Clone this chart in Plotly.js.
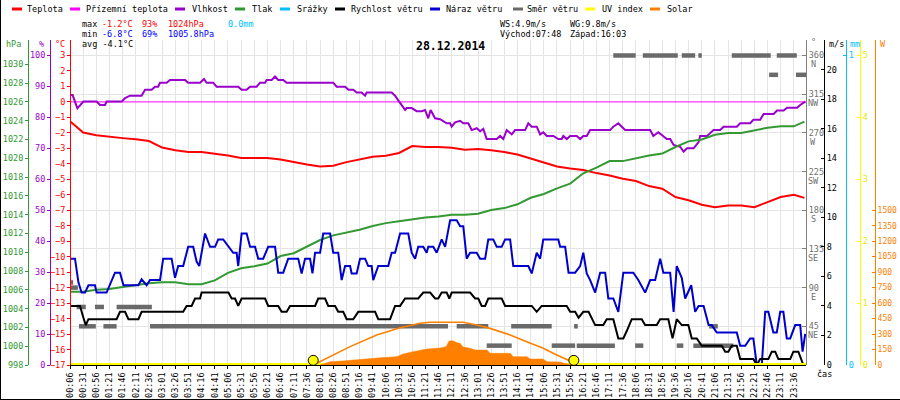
<!DOCTYPE html>
<html><head><meta charset="utf-8">
<script src="https://cdn.plot.ly/plotly-3.0.1.min.js"></script>
<style>html,body{margin:0;padding:0;background:#fff}#chart{width:900px;height:400px}</style>
</head><body><div id="chart"></div>
<script>
// ---------- DATA ----------
const timeLabels = ["00:06","00:31","00:56","01:21","01:46","02:11","02:36","03:01","03:26","03:51","04:16","04:41","05:06","05:31","05:56","06:21","06:46","07:11","07:36","08:01","08:26","08:51","09:16","09:41","10:06","10:31","10:56","11:21","11:46","12:11","12:36","13:01","13:26","13:51","14:16","14:41","15:06","15:31","15:56","16:21","16:46","17:11","17:36","18:06","18:31","18:56","19:36","20:16","20:41","21:06","21:31","21:56","22:21","22:46","23:11","23:36"];

// one value per tick label, plus the last sample
const temperature = [-1.25,-1.98,-2.16,-2.23,-2.34,-2.42,-2.53,-2.95,-3.13,-3.24,-3.24,-3.35,-3.46,-3.63,-3.63,-3.63,-3.72,-3.89,-4.04,-4.17,-4.12,-3.89,-3.74,-3.55,-3.48,-3.3,-2.85,-2.92,-2.92,-2.96,-3.09,-3.05,-3.13,-3.24,-3.4,-3.67,-3.89,-4.17,-4.3,-4.4,-4.6,-4.75,-4.96,-5.11,-5.44,-5.61,-6.15,-6.36,-6.65,-6.8,-6.7,-6.69,-6.8,-6.45,-6.15,-6.0,-6.2];
const pressure = [1005.8,1005.8,1006,1006.1,1006.3,1006.5,1006.7,1006.8,1006.8,1006.6,1006.6,1007,1007.8,1008.3,1008.5,1008.8,1009.6,1009.9,1010.6,1011.3,1011.8,1012.1,1012.4,1012.8,1013.1,1013.3,1013.5,1013.7,1013.8,1014,1014,1014.1,1014.5,1014.7,1015.1,1015.8,1016.2,1016.8,1017.3,1018.4,1019,1019.7,1019.7,1020,1020.3,1020.5,1021.2,1021.8,1022,1022.5,1022.7,1022.7,1023,1023.25,1023.4,1023.4,1023.9];

// [sample index, value]
const humidity = [[0,87.2],[1,87.2],[2.8,82.9],[5.1,85.1],[10.1,85.1],[11.4,84],[13.3,84],[13.9,85.1],[19.6,85.1],[20.9,86.2],[22.8,87],[27.2,87],[28.5,88.9],[31,88.9],[32.3,89.9],[33.5,89.9],[34.2,91.2],[36.7,91.2],[38,92.1],[43.7,92.1],[44.9,91.2],[49.4,91.2],[50.9,92.4],[51.9,91.2],[54.4,91.2],[55.7,89.9],[63.9,89.9],[65.2,88.9],[67.1,88.9],[68.4,89.9],[70.9,89.9],[72.2,91.2],[74.1,91.2],[74.7,92.1],[76.6,92.1],[77.9,93.2],[79.1,92.1],[81,92.1],[82.3,91.2],[100,91.2],[101.3,89.9],[104.5,89.9],[105.8,88.9],[107.6,88.9],[108.9,88],[110.8,88],[112.1,87],[112.7,88],[122.2,88],[123.5,87],[124.7,85.5],[127.3,82.4],[127.9,83],[129.8,83],[131.7,82],[133.6,82],[134.9,82.4],[136.1,79.7],[137,82.4],[138.7,79.7],[140.6,79.4],[143.1,78.1],[144.4,78.1],[145,77],[146.3,78.4],[148.2,78.9],[149.4,78.1],[151.3,78.1],[152.6,75.9],[154.5,76.5],[155.8,75.5],[157,76.3],[158.3,73],[162.1,73],[163.4,74],[164.6,73],[165.9,75.9],[167.8,74.5],[169.1,75.9],[172.9,75.9],[174.1,78.1],[175.4,77],[177.3,77],[178.6,74.5],[179.8,75.2],[181.1,74],[183.6,74],[185.5,73],[186.8,73],[187.4,74],[188.7,73],[190,74],[192.5,74],[193.8,73],[195,74],[196.3,74],[197.6,75.9],[205.2,75.9],[206.4,77],[208.3,78.1],[209.6,77],[210.9,75.9],[220.4,75.9],[221.6,74],[223.5,75.2],[225.4,74],[226.7,73],[228,73],[229.3,71.1],[231.8,70.5],[233.1,68.9],[234.4,70],[236.9,70],[238.8,72],[239.4,74],[242,74],[243.2,75],[244.5,75.9],[247,75.9],[248.3,77],[253.3,77],[254.6,78.1],[258.4,78.1],[259.6,79.2],[262.2,79.2],[263.5,81.1],[267.3,81.1],[268.6,82.2],[271.1,82.2],[272.4,83.1],[276.2,83.1],[277.4,84],[279.3,85.1]];

const windSpeed = [[0,4.0],[3.8,4.0],[5.1,3.2],[6,2.7],[7,3.1],[17.7,3.1],[19,3.6],[20.9,3.6],[22.2,3.1],[26,3.1],[27.2,3.6],[43,3.6],[44.3,4.0],[46.2,4.0],[47.5,4.5],[49.4,4.5],[50,4.9],[60.2,4.9],[61.4,4.5],[62.7,4.5],[63.9,4.0],[65.2,4.5],[74.1,4.5],[75.3,4.0],[79.1,4.0],[80.4,3.6],[82.3,3.6],[83.6,4.0],[93.1,4.0],[94.3,4.5],[96.9,4.5],[98.1,4.0],[100.7,4.0],[101.9,3.6],[103.8,3.6],[105.1,3.1],[107.6,3.1],[109.5,3.6],[115.9,3.6],[117.1,3.1],[121.6,3.1],[123.5,4.0],[125.4,4.0],[127.3,4.5],[132.3,4.5],[134.2,4.9],[136.8,4.9],[138.7,4.5],[139.9,4.5],[141.2,4.9],[143.1,4.9],[144.1,4.5],[145,4.9],[152,4.9],[153.9,4.5],[155.1,4.5],[156.4,4.0],[157.7,4.0],[158.9,4.5],[164,4.5],[165.3,4.0],[175.4,4.0],[177.3,3.6],[179.2,4.0],[188.7,4.0],[190,3.6],[191.9,3.6],[193.2,3.2],[195,3.6],[197,3.6],[199.5,2.7],[202.6,2.7],[203.9,3.1],[206.4,3.1],[208.3,1.8],[210.2,1.8],[211.5,2.3],[213.4,3.1],[217.2,3.1],[218.5,2.7],[222.9,2.7],[224.2,3.1],[227.3,3.1],[228.9,1.8],[230.5,3.1],[232.4,2.7],[234.9,2.7],[236.2,1.8],[238.1,1.8],[240,1.3],[247.6,1.3],[248.9,0.9],[250.1,0.9],[251.4,1.3],[253.3,1.3],[254.6,0.4],[259.6,0.4],[260.9,0],[262.2,0.4],[265.3,0.4],[266.6,0.9],[267.9,0.9],[269.1,0.4],[273.6,0.4],[274.8,0.9],[276.7,0.9],[278.6,0],[279.3,0]];

const windGust = [[0,7.2],[1.9,7.2],[3.2,5.6],[4.4,4.9],[5.7,4.9],[7,5.4],[9.5,5.4],[10.1,4.9],[13.9,4.9],[15.2,5.4],[17.1,6.25],[19,6.25],[20.3,5.4],[26,5.4],[27.2,5.8],[29.1,5.4],[30.4,5.75],[34.2,5.75],[35.4,7.2],[38.6,7.2],[39.9,5.9],[41.1,6.7],[43,6.7],[44.9,8.0],[46.8,8.0],[48.1,7.0],[49.1,6.7],[51.3,8.9],[53.2,8.0],[55.1,8.0],[56.3,8.5],[58.2,8.5],[60.2,8.0],[62,7.6],[63.3,7.6],[63.9,6.7],[65.2,8.9],[67.1,8.9],[68.4,8.0],[70.3,8.0],[71.5,7.2],[73.4,7.2],[75.3,8.0],[77.9,8.0],[79.1,6.25],[81,6.25],[82.9,7.2],[86.7,7.2],[88,6.2],[89.3,7.2],[91.2,7.2],[92.1,6.2],[93.1,7.6],[95,7.6],[96.2,8.9],[98.8,8.9],[100,7.6],[101.9,7.6],[103.2,5.75],[104.5,6.7],[106.4,6.7],[107,6.2],[108.9,6.2],[110.2,7.2],[112.1,7.2],[113.3,6.7],[114.6,6.7],[115.2,5.75],[117.1,6.7],[120.9,6.7],[122.2,7.6],[123.5,7.6],[125.4,8.9],[128.5,8.9],[129.8,7.6],[131.1,7.2],[132.3,8.0],[134.2,8.0],[135.5,7.6],[136.1,8.0],[138,8.0],[139.3,7.6],[141.2,8.5],[142.5,8.0],[144.4,9.8],[146.9,9.8],[148.2,9.4],[149.4,9.4],[150.7,7.2],[152,7.6],[154.5,7.6],[155.8,7.2],[157.7,7.2],[158.9,8.5],[160.8,8.5],[162.1,8.0],[164,8.0],[165.3,8.5],[167.2,8.5],[168.4,6.7],[174.1,6.7],[175.4,6.2],[177.3,7.6],[178.6,7.2],[179.8,8.5],[185.5,8.5],[186.2,8.0],[188.1,8.0],[189.4,6.25],[191.9,6.25],[193.8,6.7],[195,7.6],[196.3,6.2],[197.6,5.75],[199.5,4.9],[201.4,6.25],[203.3,6.25],[204.5,4.5],[206.4,4.5],[208.3,3.6],[210.2,6.25],[214,6.25],[215.9,5.75],[218.5,4.9],[220.4,5.75],[222.3,5.75],[224.2,7.2],[225.4,6.25],[228,6.25],[229.3,3.6],[230.5,6.7],[232.4,5.9],[233.7,4.5],[236,5.4],[237.5,3.6],[238.8,4.0],[240.7,4.0],[242.6,2.7],[243.8,2.7],[245.7,2.2],[253.3,2.2],[254.6,1.3],[256.5,1.3],[258.4,1.8],[259.6,1.8],[260.9,0],[262.8,0],[264.1,3.6],[265.3,3.6],[267.2,2.2],[268.5,2.2],[269.8,3.6],[271,3.6],[272.3,1.8],[273.6,1.8],[275.5,2.7],[277.4,2.7],[278.3,0.9],[279.3,2.1]];

// wind direction runs: [first sample, last sample, degrees]
const windDirection = [[0,1.2,96],[0,3,90],[2.5,6,67.5],[9.5,12.9,67.5],[17.7,31.1,67.5],[3.4,9.8,45],[12.7,17.7,45],[30.4,143.6,45],[146.9,158.9,45],[167.6,183,45],[191.5,192.9,45],[242.8,246.1,45],[143.7,146.3,22.5],[158.3,167.8,22.5],[183,191.9,22.5],[192.5,207,22.5],[214.7,217.8,22.5],[230.5,233,22.5],[236.8,252,22.5],[206.4,214.9,360],[217.6,230.9,360],[232.4,237.5,360],[238.7,240,360],[251.4,266.2,360],[268.5,276.1,360],[265.6,269,337.5],[275.8,279.6,337.5]];

const solar = [[95,0],[96.1,10],[98.8,32],[104.5,40],[108.3,50],[112.1,55],[117.8,70],[124.2,81],[126.5,107],[130.3,129],[133,140],[135.6,155],[140.6,165],[142.9,178],[144,233],[145.5,235],[147,215],[148.2,210],[149.3,175],[152,162],[153.9,145],[158.4,145],[159.6,113],[167.2,113],[168.4,81],[173.6,81],[174.8,58],[179.7,58],[181.2,32],[186.2,28],[188,15],[191.9,0]];
const solarMax = [[92.4,0],[93.7,16],[98.8,80],[106.4,178],[116.5,291],[125.4,362],[133,404],[136.8,414],[149.3,414],[154.5,388],[159.6,355],[167.2,291],[173.5,226],[179.8,162],[184.3,104],[190.6,32],[191.4,0]];
const groundTemp = [[0,0],[279.6,0]];
const rain = [[0,0],[279.6,0]];
const uvIndex = [[0,0],[279.6,0]];
const sunEvents = [[92.4,"Východ 07:48"],[191.4,"Západ 16:03"]];

const infoMax = ["-1.2°C","93%","1024hPa","0.0mm"];
const infoMin = ["-6.8°C","69%","1005.8hPa"];
const infoAvg = "-4.1°C";
const windInfo = ["WS:4.9m/s","WG:9.8m/s","Východ:07:48","Západ:16:03"];
const chartDate = "28.12.2014";
const legendNames = ["Teplota","Přízemní teplota","Vlhkost","Tlak","Srážky","Rychlost větru","Náraz větru","Směr větru","UV index","Solar"];
const compass = ["NE","E","SE","S","SW","W","NW","N"];
const compassDeg = [45,90,135,180,225,270,315,360];

// ---------- STYLE ----------
const C = {temp:'#ff0000', ground:'#ff00ff', hum:'#9900cc', pres:'#339933', rain:'#00bfff', wind:'#000000', gust:'#0000cc', dir:'#6a6a6a', uv:'#ffff00', solar:'#ff8000'};
const legendColors = [C.temp,C.ground,C.hum,C.pres,C.rain,C.wind,C.gust,C.dir,C.uv,C.solar];
const mono = 'DejaVu Sans Mono, monospace';
const W = 900, H = 400, XL = 70, XR = 806, YT = 40, YB = 365;
const px = v => v / W, py = v => 1 - v / H;

const tickIdx = timeLabels.map((_, i) => i * 5);
const seriesIdx = tickIdx.concat([279]);
const col = (arr, i) => arr.map(p => p[i]);

const dirX = [], dirY = [];
windDirection.forEach(r => { dirX.push(r[0], r[1], null); dirY.push(r[2], r[2], null); });

const traces = [
  {x: col(solar,0), y: col(solar,1), yaxis:'y8', type:'scatter', mode:'lines', fill:'tozeroy', fillcolor:C.solar, line:{color:C.solar, width:0.5}},
  {x: col(solarMax,0), y: col(solarMax,1), yaxis:'y8', type:'scatter', mode:'lines', line:{color:C.solar, width:1.6}},
  {x: col(rain,0), y: col(rain,1), yaxis:'y6', type:'scatter', mode:'lines', line:{color:C.rain, width:2}},
  {x: col(uvIndex,0), y: col(uvIndex,1), yaxis:'y7', type:'scatter', mode:'lines', line:{color:C.uv, width:4}},
  {x: dirX, y: dirY, yaxis:'y4', type:'scatter', mode:'lines', connectgaps:false, line:{color:C.dir, width:4.5}},
  {x: col(windGust,0), y: col(windGust,1), yaxis:'y5', type:'scatter', mode:'lines', line:{color:C.gust, width:2}},
  {x: col(windSpeed,0), y: col(windSpeed,1), yaxis:'y5', type:'scatter', mode:'lines', line:{color:C.wind, width:2}},
  {x: seriesIdx, y: pressure, yaxis:'y3', type:'scatter', mode:'lines', line:{color:C.pres, width:2}},
  {x: col(humidity,0), y: col(humidity,1), yaxis:'y2', type:'scatter', mode:'lines', line:{color:C.hum, width:2}},
  {x: col(groundTemp,0), y: col(groundTemp,1), yaxis:'y', type:'scatter', mode:'lines', line:{color:C.ground, width:1}},
  {x: seriesIdx, y: temperature, yaxis:'y', type:'scatter', mode:'lines', line:{color:C.temp, width:2}},
  {x: col(sunEvents,0), y: sunEvents.map(() => 45), yaxis:'y8', type:'scatter', mode:'markers', cliponaxis:false, text: col(sunEvents,1), marker:{color:'#ffff00', size:10, line:{color:'#000', width:1}}}
];

function yax(color, pos, side, range, tickvals, extra) {
  return Object.assign({
    anchor:'free', position: px(pos), side: side, domain:[py(YB), py(YT)], range: range,
    tickmode:'array', tickvals: tickvals, showgrid:false, zeroline:false,
    showline:true, linecolor: color, linewidth:1,
    ticks: side === 'right' ? 'inside' : 'outside', ticklen: side === 'right' ? 3 : 3, tickcolor: color,
    tickfont:{family:mono, size:8.5, color: color}, fixedrange:true
  }, extra || {});
}
const rng = (a, b, s) => { const o = []; for (let v = a; v <= b + 1e-9; v += s) o.push(Math.round(v*100)/100); return o; };

const layout = {
  width: W, height: H, margin:{l:0, r:0, t:0, b:0}, showlegend:false,
  paper_bgcolor:'#fff', plot_bgcolor:'#fff',
  xaxis:{domain:[px(XL), px(XR)], range:[0, 279.6], anchor:'y', tickmode:'array', tickvals: tickIdx, ticktext: timeLabels,
    tickangle:-90, tickfont:{family:mono, size:8.5, color:'#000'}, showgrid:true, gridcolor:'#e4e4e4', gridwidth:1,
    zeroline:false, showline:true, linecolor:'#000', ticks:'outside', ticklen:3, tickcolor:'#000', fixedrange:true},
  yaxis: yax(C.temp, XL, 'left', [-17, 4], rng(-17, 3, 1)),
  yaxis2: yax(C.hum, 50, 'left', [0, 105], rng(0, 100, 10), {overlaying:'y'}),
  yaxis3: yax(C.pres, 28, 'left', [998, 1032.59], rng(998, 1030, 2), {overlaying:'y'}),
  yaxis4: yax('#808080', XR, 'right', [0, 378], compassDeg, {overlaying:'y', showgrid:true, gridcolor:'#e4e4e4', ticklen:4, tickcolor:'#808080', tickfont:{family:mono, size:8.5, color:'#707070'}}),
  yaxis5: yax('#000000', 824, 'right', [0, 22], rng(0, 20, 2), {overlaying:'y'}),
  yaxis6: yax(C.rain, 846, 'right', [0, 1.05], [0, 1], {overlaying:'y'}),
  yaxis7: yax('#e8e800', 860, 'right', [0, 5.25], rng(0, 5, 1), {overlaying:'y', linecolor:C.uv, tickcolor:C.uv, tickfont:{family:mono, size:8.5, color:'#e6e600'}}),
  yaxis8: yax(C.solar, 875, 'right', [0, 3150], rng(0, 1500, 150), {overlaying:'y', tickfont:{family:mono, size:8, color:C.solar}}),
  annotations: [], shapes: []
};

const ann = layout.annotations, shp = layout.shapes;
function txt(x, y, text, color, opts) {
  ann.push(Object.assign({xref:'paper', yref:'paper', x: px(x), y: py(y), text: text, showarrow:false,
    xanchor:'left', yanchor:'middle', font:{family:mono, size:8.5, color: color || '#000'}}, opts || {}));
}
// legend
const legSym = [12,70,175,235,280,335,430,513,585,650];
const legTxt = [25,84,190,250,295,349,444,525,600,665];
legendNames.forEach((n, i) => {
  shp.push({type:'line', xref:'paper', yref:'paper', x0: px(legSym[i]), x1: px(legSym[i] + 10), y0: py(9), y1: py(9), line:{color: legendColors[i], width:3}});
  txt(legTxt[i], 9, n, '#000');
});
// statistics
txt(80, 24, 'max', '#000'); txt(100, 24, infoMax[0], '#ff0000'); txt(140, 24, infoMax[1], '#ff0000'); txt(166, 24, infoMax[2], '#ff0000'); txt(226, 24, infoMax[3], C.rain);
txt(80, 34, 'min', '#000'); txt(100, 34, infoMin[0], '#0000ff'); txt(140, 34, infoMin[1], '#0000ff'); txt(166, 34, infoMin[2], '#0000ff');
txt(80, 44, 'avg ' + infoAvg, '#000');
txt(498, 24, windInfo[0]); txt(568, 24, windInfo[1]); txt(498, 34, windInfo[2]); txt(568, 34, windInfo[3]);
txt(450, 46, '<b>' + chartDate + '</b>', '#000', {xanchor:'center', font:{family:mono, size:11.5, color:'#000'}});
// axis titles
txt(23, 44, 'hPa', C.pres, {xanchor:'right'});
txt(46, 44, '%', C.hum, {xanchor:'right'});
txt(67, 44, '°C', C.temp, {xanchor:'right'});
txt(809, 42, '°', '#707070');
txt(827, 44, 'm/s', '#000');
txt(848, 44, 'mm', C.rain);
txt(878, 44, 'W', C.solar);
txt(815, 374, 'čas', '#000');
// compass letters under direction ticks
compass.forEach((c, i) => ann.push({xref:'paper', yref:'y4', x: px(813), y: compassDeg[i], yshift:-9, text:c, showarrow:false,
  xanchor:'center', yanchor:'middle', font:{family:mono, size:8.5, color:'#707070'}}));
// frame
shp.push({type:'line', xref:'paper', yref:'paper', x0: px(0.5), x1: px(0.5), y0: 0, y1: 1, line:{color:'#000', width:1}});
shp.push({type:'line', xref:'paper', yref:'paper', x0: 0, x1: 1, y0: py(399.5), y1: py(399.5), line:{color:'#000', width:1}});

Plotly.newPlot('chart', traces, layout, {staticPlot:true, displayModeBar:false});
</script></body></html>
